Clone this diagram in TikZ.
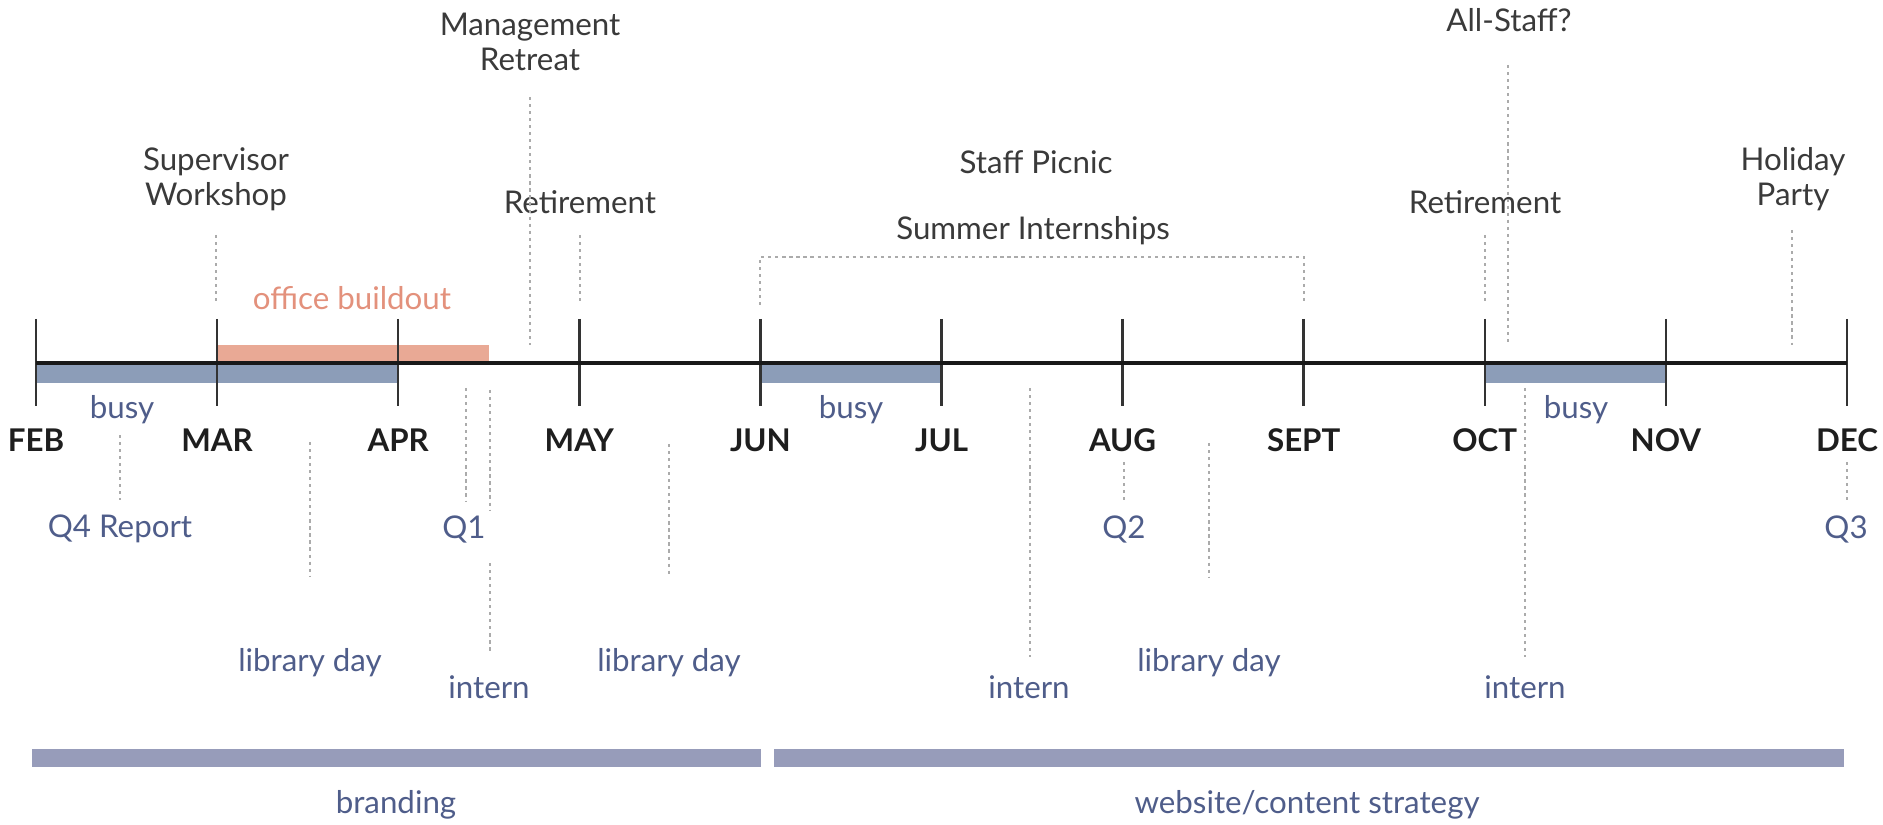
\documentclass[tikz,border=0pt]{standalone}
\usepackage{fontspec}
\setmainfont{Lato}
\definecolor{monthc}{HTML}{1E1E1E}
\definecolor{eventc}{HTML}{3A3A3A}
\definecolor{notec}{HTML}{4F5D8A}
\definecolor{busyc}{HTML}{8C9DB8}
\definecolor{officec}{HTML}{E9A995}
\definecolor{officetext}{HTML}{E3917C}
\definecolor{projc}{HTML}{979CBA}
\definecolor{guidec}{HTML}{ABABAB}
\begin{document}
\begin{tikzpicture}[x=0.01cm,y=-0.01cm,
  every node/.style={font=\fontsize{8.9}{10}\selectfont, inner sep=0pt},
  month/.style={font=\fontsize{8.9}{10}\selectfont\bfseries, text=monthc},
  event/.style={text=eventc, align=center},
  note/.style={text=notec, align=center},
  guide/.style={draw=guidec, line width=0.5pt, dash pattern=on 0.9pt off 1.1pt},
  axisline/.style={draw=black!90, line width=1pt},
  tickline/.style={draw=black!80, line width=0.7pt},
  busybar/.style={fill=busyc},
  officebar/.style={fill=officec},
  projbar/.style={fill=projc}
]
\useasboundingbox (0,0) rectangle (1883,825);

% busy periods and the office buildout, under the axis
\fill[busybar] (36,364.5) rectangle (398,383);
\fill[busybar] (760,364.5) rectangle (942,383);
\fill[busybar] (1485,364.5) rectangle (1666,383);
\fill[officebar] (217,345) rectangle (489,362);

% month ticks and labels
\foreach \i/\m in {0/FEB,1/MAR,2/APR,3/MAY,4/JUN,5/JUL,6/AUG,7/SEPT,8/OCT,9/NOV,10/DEC} {
  \coordinate (t\i) at ({36+181.1*\i},363);
  \coordinate (tu\i) at ({36+181.1*\i},319);
  \coordinate (td\i) at ({36+181.1*\i},406);
  \draw[tickline] (tu\i) -- (td\i);
  \node[month] (m\i) at ({36+181.1*\i},440) {\m};
}
\draw[axisline] (t0) -- (t10);

% busy labels
\node[note] (busy1) at (122,410) {busy};
\node[note] (busy2) at (851,410) {busy};
\node[note] (busy3) at (1576,410) {busy};
\node[text=officetext] (office) at (352,298) {office buildout};

% events above the axis
\node[event] (sup) at (216,179.5) {Supervisor\\Workshop};
\node[event] (mgmt) at (530,42) {Management\\Retreat};
\node[event] (ret1) at (580,202) {Retirement};
\node[event] (picnic) at (1036,162) {Staff Picnic};
\node[event] (summer) at (1033,231) {Summer Internships};
\node[event] (ret2) at (1485,202) {Retirement};
\node[event] (allstaff) at (1509,20) {All-Staff?};
\node[event] (holiday) at (1793,179.5) {Holiday\\Party};

% notes below the axis
\node[note] (q4) at (120,529) {Q4 Report};
\node[note] (lib1) at (310,663) {library day};
\node[note] (q1) at (464,529) {Q1};
\node[note] (int1) at (489,687) {intern};
\node[note] (lib2) at (669,663) {library day};
\node[note] (int2) at (1029,687) {intern};
\node[note] (q2) at (1124,529) {Q2};
\node[note] (lib3) at (1209,663) {library day};
\node[note] (int3) at (1525,687) {intern};
\node[note] (q3) at (1846,529) {Q3};

% dotted guides
\foreach \n/\x/\ya/\yb in {
  gsup/216/235/305, gmgmt/530/97/345, gret1/580/235/305,
  gret2/1485/235/305, gall/1508/65/345, ghol/1792/230/345,
  gq4/120/435/500, glib1/310/442/577, gq1/466/388/502,
  gint1a/490/390/510, gint1b/490/563/653, glib2/669/444/577,
  gint2/1030/388/657, gq2/1124/462/500, glib3/1209/443/577,
  gint3/1525/388/657, gq3/1847/462/500} {
  \coordinate (\n-top) at (\x,\ya);
  \coordinate (\n-bot) at (\x,\yb);
  \draw[guide] (\n-top) -- (\n-bot);
}

% summer internships bracket
\coordinate (brl) at (760,305);
\coordinate (brr) at (1304,305);
\draw[guide] (brl) -- (760,257) -- (1304,257) -- (brr);

% project bars
\fill[projbar] (32,749) rectangle (761,767);
\fill[projbar] (774,749) rectangle (1844,767);
\node[note] (brand) at (396,805) {branding};
\node[note] (web) at (1307,805) {website/content strategy};
\end{tikzpicture}
\end{document}
